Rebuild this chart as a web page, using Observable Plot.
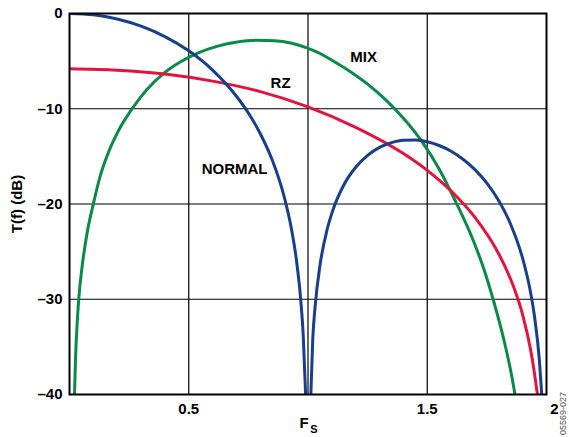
<!DOCTYPE html>
<html>
<head>
<meta charset="utf-8">
<script src="https://cdn.jsdelivr.net/npm/d3@7"></script>
<script src="https://cdn.jsdelivr.net/npm/@observablehq/plot@0.6"></script>
<style>
  html, body { margin: 0; padding: 0; background: white; }
</style>
</head>
<body>
<div id="chart"></div>
<script>
// NORMAL (left lobe) and (right lobe)
const fNormalA = [0, 0.1, 0.2, 0.3, 0.4, 0.5, 0.6, 0.7, 0.75, 0.8, 0.85, 0.9, 0.93, 0.95, 0.97, 0.98, 0.99];
const dbNormalA = [0, -0.14, -0.58, -1.33, -2.42, -3.92, -5.94, -8.69, -10.45, -12.62, -15.39, -19.23, -22.54, -25.61, -30.21, -33.81, -40];
const fNormalB = [1.012, 1.02, 1.03, 1.05, 1.08, 1.1, 1.15, 1.2, 1.25, 1.3, 1.35, 1.4, 1.45, 1.5, 1.55, 1.6, 1.65, 1.7, 1.75, 1.8, 1.85, 1.9, 1.93, 1.95, 1.97, 1.98];
const dbNormalB = [-40, -34.15, -30.73, -26.48, -22.70, -20.97, -18.01, -16.14, -14.89, -14.06, -13.55, -13.30, -13.28, -13.46, -13.86, -14.46, -15.30, -16.39, -17.81, -19.67, -22.15, -25.72, -28.88, -31.86, -36.36, -40];
// RZ
const fRZ = [0, 0.2, 0.4, 0.6, 0.8, 1.0, 1.2, 1.4, 1.5, 1.6, 1.7, 1.8, 1.86, 1.9, 1.94, 1.962];
const dbRZ = [-5.8, -5.95, -6.35, -7.1, -8.2, -9.8, -11.96, -14.71, -16.47, -18.64, -21.41, -25.25, -28.56, -31.63, -36.23, -40];
// MIX
const fMix = [0.021, 0.0255, 0.032, 0.039, 0.053, 0.074, 0.100, 0.129, 0.163, 0.208, 0.264, 0.3245, 0.395, 0.4675, 0.54, 0.6215, 0.703, 0.785, 0.859, 0.932, 0.995, 1.055, 1.1, 1.175, 1.25, 1.326, 1.402, 1.478, 1.5515, 1.625, 1.687, 1.739, 1.78, 1.824, 1.852, 1.868];
const dbMix = [-40, -36.08, -32.56, -29.9, -26.54, -23.01, -19.99, -17.05, -14.60, -12.18, -9.95, -7.97, -6.28, -5.04, -4.13, -3.42, -2.99, -2.81, -2.86, -3.12, -3.60, -4.25, -4.9, -6.06, -7.42, -9.07, -11.06, -13.46, -16.40, -20.06, -23.47, -26.95, -30.34, -34.54, -37.77, -40];

// Curve labels
const labelNames = ["NORMAL", "RZ", "MIX"];
const labelF = [0.692, 0.885, 1.233];
const labelDb = [-16.3, -7.35, -4.6];

// Ticks and grid
const yTicks = [0, -10, -20, -30, -40];
const xTicksMain = [0.5, 1.5];
const xTicksEnd = [2];
const xGrid = [0.5, 1, 1.5];
const yGrid = [-10, -20, -30];

const toRows = (fs, dbs) => fs.map((f, i) => ({f, db: dbs[i]}));
const normalA = toRows(fNormalA, dbNormalA);
const normalB = toRows(fNormalB, dbNormalB);
const rz = toRows(fRZ, dbRZ);
const mix = toRows(fMix, dbMix);
const labels = labelNames.map((name, i) => ({name, f: labelF[i], db: labelDb[i]}));

const BLUE = "#173f8c";
const RED = "#e2143c";
const GREEN = "#0a8a48";
const lineOpts = {x: "f", y: "db", strokeWidth: 3, curve: "monotone-x", clip: true};

const chart = Plot.plot({
  width: 569,
  height: 437,
  marginLeft: 69,
  marginRight: 23,
  marginTop: 13,
  marginBottom: 43,
  x: {domain: [0, 2]},
  y: {domain: [-40, 0]},
  style: {fontFamily: "'Liberation Sans', Arial, sans-serif", fontWeight: "bold", fontSize: "15px", color: "black", background: "white"},
  marks: [
    Plot.ruleX(xGrid, {stroke: "black", strokeWidth: 1.2}),
    Plot.ruleY(yGrid, {stroke: "black", strokeWidth: 1.2}),
    Plot.line(mix, {...lineOpts, stroke: GREEN}),
    Plot.line(rz, {...lineOpts, stroke: RED}),
    Plot.line(normalA, {...lineOpts, stroke: BLUE}),
    Plot.line(normalB, {...lineOpts, stroke: BLUE}),
    Plot.frame({stroke: "black", strokeWidth: 2}),
    Plot.axisY(yTicks, {tickSize: 0, tickPadding: 7, label: null, fontSize: 15, fontWeight: "bold",
      tickFormat: d => d === 0 ? "0" : "\u2013" + Math.abs(d)}),
    Plot.axisX(xTicksMain, {tickSize: 0, tickPadding: 9, label: null, fontSize: 15, fontWeight: "bold", tickFormat: d => String(d)}),
    Plot.axisX(xTicksEnd, {tickSize: 0, tickPadding: 9, label: null, fontSize: 15, fontWeight: "bold", dx: 8, tickFormat: d => String(d)}),
    Plot.text(labels, {x: "f", y: "db", text: "name", fontSize: 15, fontWeight: "bold", fill: "black"}),
    Plot.text(["T(f) (dB)"], {text: d => d, frameAnchor: "left", rotate: -90, dx: -52, fontSize: 15, fontWeight: "bold", textAnchor: "middle"}),
    Plot.text(["F"], {text: d => d, frameAnchor: "bottom", dx: -4, dy: 33, fontSize: 15, fontWeight: "bold", textAnchor: "middle"}),
    Plot.text(["S"], {text: d => d, frameAnchor: "bottom", dx: 6, dy: 38, fontSize: 11, fontWeight: "bold", textAnchor: "middle"}),
    Plot.text(["05569-027"], {text: d => d, frameAnchor: "bottom-right", dx: 19, dy: 19, rotate: -90, fontSize: 9, fontWeight: "normal", fill: "#555", textAnchor: "middle"})
  ]
});
document.getElementById("chart").appendChild(chart);
</script>
</body>
</html>
